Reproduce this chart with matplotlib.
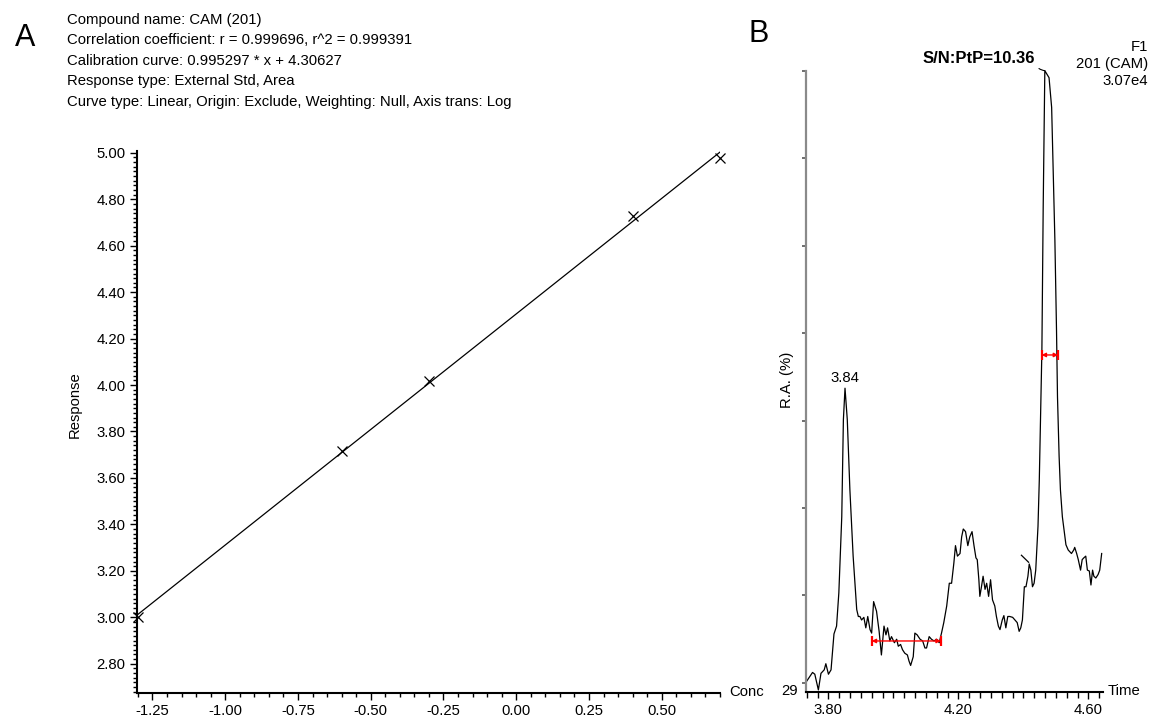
import matplotlib
matplotlib.use("Agg")
import matplotlib.pyplot as plt
import numpy as np
from matplotlib.ticker import FixedLocator, NullFormatter

plt.rcParams['font.family'] = ['Liberation Sans', 'DejaVu Sans']
plt.rcParams['axes.unicode_minus'] = False

# ---------------- Panel A data ----------------
header_lines = [
    "Compound name: CAM (201)",
    "Correlation coefficient: r = 0.999696, r^2 = 0.999391",
    "Calibration curve: 0.995297 * x + 4.30627",
    "Response type: External Std, Area",
    "Curve type: Linear, Origin: Exclude, Weighting: Null, Axis trans: Log",
]
conc = [-1.30, -0.60, -0.30, 0.40, 0.70]
response = [3.00, 3.717, 4.018, 4.727, 4.977]
slope = 0.995297
intercept = 4.30627
x_ticks_A = [-1.25, -1.00, -0.75, -0.50, -0.25, 0.00, 0.25, 0.50]
y_ticks_A = [2.80, 3.00, 3.20, 3.40, 3.60, 3.80, 4.00, 4.20, 4.40, 4.60, 4.80, 5.00]

# ---------------- Panel B data ----------------
time_min = [
    3.733, 3.751, 3.758, 3.769, 3.777, 3.787, 3.792, 3.800, 3.808, 3.817,
    3.825, 3.832, 3.841, 3.846, 3.851, 3.858, 3.866, 3.876, 3.887, 3.892,
    3.897, 3.902, 3.909, 3.915, 3.921, 3.928, 3.933, 3.939, 3.948, 3.956,
    3.963, 3.971, 3.977, 3.982, 3.989, 3.994, 4.003, 4.010, 4.015, 4.022,
    4.028, 4.035, 4.043, 4.048, 4.053, 4.061, 4.066, 4.073, 4.082, 4.090,
    4.097, 4.102, 4.110, 4.117, 4.125, 4.133, 4.141, 4.148, 4.155, 4.164,
    4.172, 4.179, 4.186, 4.191, 4.197, 4.205, 4.210, 4.215, 4.222, 4.229,
    4.235, 4.242, 4.248, 4.254, 4.258, 4.263, 4.266, 4.271, 4.276, 4.282,
    4.287, 4.293, 4.299, 4.305, 4.312, 4.317, 4.323, 4.328, 4.335, 4.340,
    4.346, 4.352, 4.358, 4.367, 4.374, 4.381, 4.387, 4.392, 4.397, 4.403,
    4.408, 4.414, 4.418, 4.423, 4.428, 4.433, 4.438, 4.445, 4.449, 4.453,
    4.457, 4.461, 4.466, 4.479, 4.487, 4.497, 4.502, 4.505, 4.510, 4.514,
    4.520, 4.525, 4.531, 4.538, 4.548, 4.555, 4.558, 4.564, 4.569, 4.576,
    4.581, 4.586, 4.592, 4.597, 4.603, 4.608, 4.613, 4.617, 4.623, 4.630,
    4.635, 4.641,
]
rel_abund = [
    30.2, 31.2, 31.0, 29.2, 31.1, 31.5, 32.2, 31.0, 31.5, 35.6,
    36.5, 40.3, 49.0, 60.1, 63.7, 60.1, 52.1, 44.5, 38.4, 37.6,
    37.6, 37.2, 37.5, 36.3, 37.6, 36.1, 35.7, 39.3, 38.2, 35.9,
    33.2, 36.5, 35.5, 36.3, 34.8, 35.3, 34.6, 35.0, 34.2, 34.4,
    33.8, 33.4, 33.2, 32.5, 32.0, 33.0, 35.7, 35.5, 35.0, 34.8,
    34.0, 34.0, 35.3, 35.0, 34.8, 35.0, 34.6, 35.7, 36.9, 38.8,
    41.4, 41.4, 43.7, 45.7, 44.5, 44.8, 46.7, 47.6, 47.3, 45.7,
    46.7, 47.3, 45.7, 44.3, 44.1, 41.8, 39.9, 41.0, 42.2, 40.7,
    41.4, 39.9, 41.8, 39.5, 38.8, 37.6, 36.5, 36.1, 37.2, 37.7,
    36.3, 37.6, 37.6, 37.5, 37.2, 36.9, 35.9, 36.3, 37.2, 41.0,
    41.0, 42.2, 43.6, 42.9, 41.0, 41.4, 42.9, 47.9, 53.2, 60.4,
    68.1, 84.4, 100.0, 99.2, 95.8, 80.6, 70.3, 62.7, 55.9, 52.1,
    49.0, 47.5, 45.8, 45.2, 44.8, 45.2, 45.5, 44.8, 44.1, 42.9,
    44.1, 44.3, 44.5, 42.9, 42.8, 41.2, 42.9, 42.2, 42.0, 42.4,
    42.9, 44.8,
]
artifact_time = [4.394, 4.416]
artifact_ra = [44.6, 43.8]
noise_window = [3.933, 4.146]
noise_level = 34.8
width_window = [4.456, 4.507]
width_level = 67.5
time_ticks = [3.80, 4.20, 4.60]
ra_ticks = [30, 40, 50, 60, 70, 80, 90, 100]
ra_min_label = "29"
side_lines = ["F1", "201 (CAM)", "3.07e4"]
sn_label = "S/N:PtP=10.36"
small_peak_label = "3.84"

W, H = 1151, 717
fig = plt.figure(figsize=(W / 100, H / 100), dpi=100)
FS = 10.7

def fx(px):
    return px / W

def fy(py):
    return 1 - py / H

# ---------------- Panel A ----------------
axA = fig.add_axes([fx(136.7), fy(693), (720 - 136.7) / W, (693 - 150.7) / H])
axA.set_xlim(-1.304, 0.70)
axA.set_ylim(2.674, 5.009)
xl = np.array([min(conc), max(conc)])
axA.plot(xl, slope * xl + intercept, color='black', lw=0.9, zorder=2)
axA.plot(conc, response, 'x', color='black', ms=7.5, mew=0.9, zorder=3, clip_on=False)
for s in ['top', 'right']:
    axA.spines[s].set_visible(False)
for s in ['left', 'bottom']:
    axA.spines[s].set_linewidth(1.5)
axA.xaxis.set_major_locator(FixedLocator(x_ticks_A))
axA.xaxis.set_minor_locator(FixedLocator(np.round(np.arange(-1.30, 0.701, 0.05), 2)))
axA.yaxis.set_major_locator(FixedLocator(y_ticks_A))
axA.yaxis.set_minor_locator(FixedLocator(np.round(np.arange(2.68, 5.001, 0.02), 2)))
axA.set_xticklabels([f"{v:.2f}" for v in x_ticks_A])
axA.set_yticklabels([f"{v:.2f}" for v in y_ticks_A])
axA.tick_params(which='major', direction='out', length=5, width=1, labelsize=FS, pad=3)
axA.tick_params(which='minor', direction='out', length=3, width=1)
fig.text(fx(729), fy(692), "Conc", fontsize=FS, ha='left', va='center')
fig.text(fx(75), fy(405), "Response", fontsize=FS, rotation=90, ha='center', va='center')
fig.text(fx(25), fy(38), "A", fontsize=22, ha='center', va='center')
for i, line in enumerate(header_lines):
    fig.text(fx(67), fy(20 + i * 20.5), line, fontsize=FS, ha='left', va='center')

# ---------------- Panel B ----------------
axB = fig.add_axes([fx(805.7), fy(691.7), (1103.3 - 805.7) / W, (691.7 - 70.7) / H])
axB.set_xlim(3.730, 4.646)
axB.set_ylim(29, 100)
axB.plot(time_min, rel_abund, color='black', lw=0.9, clip_on=False)
axB.plot(artifact_time, artifact_ra, color='black', lw=0.9)
for s in ['top', 'right']:
    axB.spines[s].set_visible(False)
axB.spines['left'].set_color('#8a8a8a')
axB.spines['left'].set_linewidth(1.6)
axB.spines['bottom'].set_linewidth(1.5)
axB.xaxis.set_major_locator(FixedLocator(time_ticks))
axB.xaxis.set_minor_locator(FixedLocator(3.80 + np.arange(-2, 26) / 30.0))
axB.set_xticklabels([f"{v:.2f}" for v in time_ticks])
axB.yaxis.set_major_locator(FixedLocator(ra_ticks))
axB.yaxis.set_major_formatter(NullFormatter())
axB.tick_params(axis='x', which='major', direction='out', length=5, width=1, labelsize=FS, pad=3)
axB.tick_params(axis='x', which='minor', direction='out', length=4, width=1)
axB.tick_params(axis='y', which='major', direction='out', length=3, width=1.2, color='#555555')

# red markers
for win, lev in [(noise_window, noise_level), (width_window, width_level)]:
    axB.annotate('', xy=(win[1], lev), xytext=(win[0], lev),
                 arrowprops=dict(arrowstyle='<|-|>', color='red', lw=1,
                                 mutation_scale=6, shrinkA=0, shrinkB=0))
    axB.plot(win, [lev, lev], '|', color='red', ms=7, mew=1.6)

# labels
i_big = int(np.argmax(rel_abund))
i_small = int(np.argmax(rel_abund[:40]))
axB.annotate(small_peak_label, xy=(time_min[i_small], rel_abund[i_small]),
             xytext=(0, 2), textcoords='offset points', ha='center', va='bottom', fontsize=FS)
axB.annotate(sn_label, xy=(time_min[i_big], rel_abund[i_big]),
             xytext=(-7, 8.5), textcoords='offset points', ha='right', va='center',
             fontsize=12, fontweight='bold', annotation_clip=False,
             arrowprops=dict(arrowstyle='-', lw=0.8, color='black', shrinkA=1, shrinkB=0,
                             relpos=(1.0, 0.15), connectionstyle='arc3,rad=0.25'))
for i, line in enumerate(side_lines):
    fig.text(fx(1148), fy(47 + i * 17), line, fontsize=FS, ha='right', va='center')
fig.text(fx(798), fy(691), ra_min_label, fontsize=FS, ha='right', va='center')
fig.text(fx(1108), fy(691), "Time", fontsize=FS, ha='left', va='center')
fig.text(fx(787), fy(380), "R.A. (%)", fontsize=FS, rotation=90, ha='center', va='center')
fig.text(fx(759), fy(34), "B", fontsize=22, ha='center', va='center')

fig.savefig("out.png", dpi=100, facecolor='white')
